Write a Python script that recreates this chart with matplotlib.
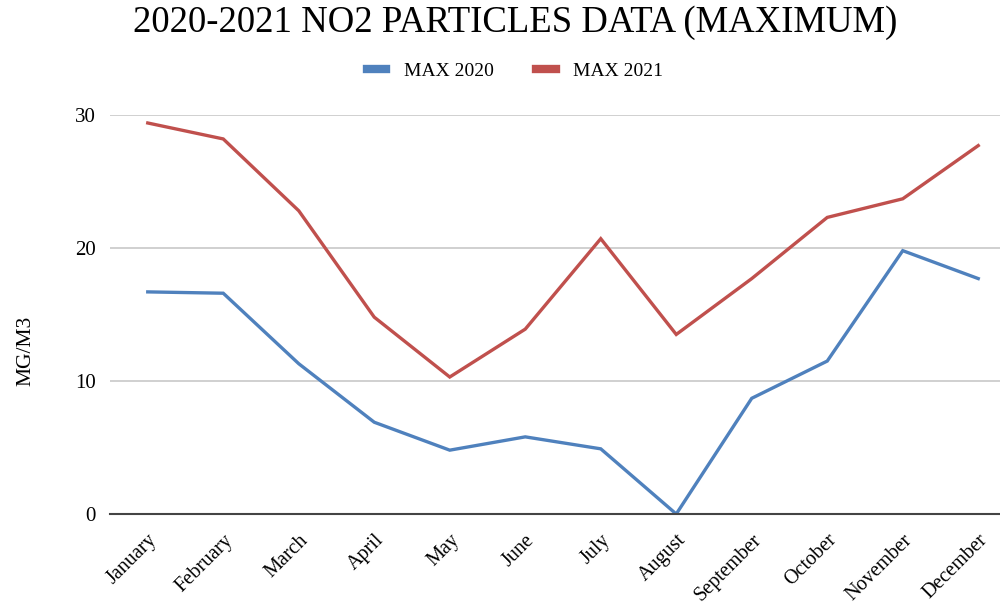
import matplotlib
matplotlib.use("Agg")
import matplotlib.pyplot as plt

months = ["January", "February", "March", "April", "May", "June", "July",
          "August", "September", "October", "November", "December"]
max_2020 = [16.7, 16.6, 11.3, 6.9, 4.8, 5.8, 4.9, 0.0, 8.7, 11.5, 19.8, 17.7]
max_2021 = [29.4, 28.2, 22.8, 14.8, 10.3, 13.9, 20.7, 13.5, 17.7, 22.3, 23.7, 27.7]
yticks = [0, 10, 20, 30]

plt.rcParams['font.family'] = ['Liberation Serif', 'DejaVu Serif']

fig = plt.figure(figsize=(10, 6.04), dpi=100)
ax = fig.add_axes([0.11, 0.149, 0.906, 0.6606])

x = list(range(len(months)))
ax.plot(x, max_2020, color="#4F81BD", lw=2.4, label="MAX 2020", solid_joinstyle='miter')
ax.plot(x, max_2021, color="#C0504D", lw=2.4, label="MAX 2021", solid_joinstyle='miter')

ax.set_xlim(-0.5, 11.5)
ax.set_ylim(0, 30)
ax.set_yticks(yticks)
ax.set_yticklabels([str(v) for v in yticks], fontsize=15)
ax.set_xticks(x)
ax.set_xticklabels(months, rotation=45, ha='right', rotation_mode='anchor', fontsize=14.5)
ax.tick_params(axis='both', length=0, pad=10)
ax.tick_params(axis='x', pad=12)
ax.grid(axis='y', color='#c8c8c8', lw=1.2)
ax.set_axisbelow(True)
for s in ['top', 'right', 'left']:
    ax.spines[s].set_visible(False)
ax.spines['bottom'].set_color('#444444')
ax.spines['bottom'].set_linewidth(1.5)
ax.spines['bottom'].set_zorder(3)

ax.set_ylabel("MG/M3", fontsize=15.5)
ax.yaxis.set_label_coords(-0.082, 0.41)

fig.text(0.515, 0.963, "2020-2021 NO2 PARTICLES DATA (MAXIMUM)", ha='center', va='center', fontsize=26.5)
leg = fig.legend(loc='center', bbox_to_anchor=(0.515, 0.882), ncol=2, frameon=False,
                 fontsize=14, handlelength=1.0, handletextpad=0.9, columnspacing=2.2)
for h in leg.get_lines():
    h.set_linewidth(6)

fig.savefig("out.png", dpi=100)
